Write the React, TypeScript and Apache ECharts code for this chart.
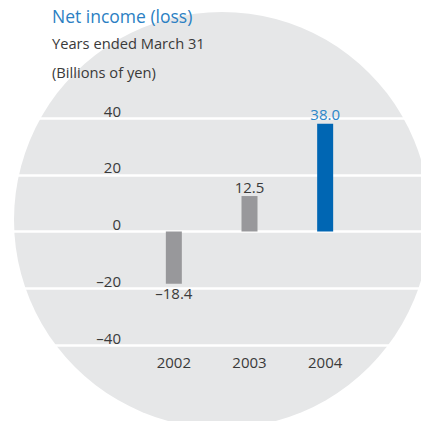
import React, { useEffect, useRef } from "react";
import * as echarts from "echarts";

const categories = ["2002", "2003", "2004"];
const values = [-18.4, 12.5, 38.0];
const barColors = ["#98989b", "#98989b", "#0066b3"];
const labelColors = ["#3a3a3a", "#3a3a3a", "#2b86c9"];
const yTicks = { min: -40, max: 40, interval: 20 };

const FONT = "Open Sans";

export default function App() {
  const ref = useRef<HTMLDivElement>(null);
  useEffect(() => {
    if (!ref.current) return;
    const chart = echarts.init(ref.current, undefined, { renderer: "svg" });
    const fmt = (v: number) => (v < 0 ? "\u2013" + Math.abs(v) : String(v));
    chart.setOption({
      animation: false,
      backgroundColor: "#ffffff",
      textStyle: { fontFamily: FONT },
      title: [
        { text: "Net income (loss)", left: 47, top: 2, textStyle: { fontFamily: FONT, fontSize: 17.5, fontWeight: "normal", color: "#2b7fc3" } },
        { text: "Years ended March 31", left: 47, top: 30, textStyle: { fontFamily: FONT, fontSize: 14.7, fontWeight: "normal", color: "#3a3a3a" } },
        { text: "(Billions of yen)", left: 47, top: 59, textStyle: { fontFamily: FONT, fontSize: 14.7, fontWeight: "normal", color: "#3a3a3a" } },
      ],
      graphic: [
        { type: "circle", z: -100, silent: true, shape: { cx: 222, cy: 220, r: 208 }, style: { fill: "#e6e7e8" } },
      ],
      grid: [
        { left: 136, right: 58, top: 118, bottom: 76 },
        { left: 0, right: 0, top: 118, bottom: 76 },
      ],
      xAxis: [
        {
          type: "category",
          gridIndex: 0,
          data: categories,
          axisLine: { show: false },
          axisTick: { show: false },
          axisLabel: { fontFamily: FONT, fontSize: 15, color: "#3a3a3a", margin: 9, verticalAlign: "top" },
        },
        { type: "value", gridIndex: 1, min: 0, max: 1, show: false },
      ],
      yAxis: [
        {
          type: "value",
          gridIndex: 0,
          ...yTicks,
          axisLine: { show: false },
          axisTick: { show: false },
          splitLine: { show: false },
          axisLabel: {
            fontFamily: FONT,
            fontSize: 15,
            color: "#3a3a3a",
            align: "right",
            verticalAlign: "bottom",
            margin: 15,
            formatter: fmt,
          },
        },
        {
          type: "value",
          gridIndex: 1,
          ...yTicks,
          axisLine: { show: false },
          axisTick: { show: false },
          axisLabel: { show: false },
          splitLine: { show: true, lineStyle: { color: "#ffffff", width: 2.5 } },
        },
      ],
      series: [
        {
          type: "bar",
          xAxisIndex: 0,
          yAxisIndex: 0,
          barWidth: 16,
          z: 3,
          data: values.map((v, i) => ({
            value: v,
            itemStyle: { color: barColors[i] },
            label: {
              show: true,
              position: v < 0 ? "bottom" : "top",
              distance: 2,
              fontFamily: FONT,
              fontSize: 15,
              color: labelColors[i],
              formatter: () => fmt(Number(v.toFixed(1))).replace(/^(–?\d+)$/, "$1.0"),
            },
          })),
        },
      ],
    });
    return () => chart.dispose();
  }, []);
  return <div ref={ref} style={{ width: 421, height: 421, position: "absolute", left: 0, top: 0 }} />;
}
